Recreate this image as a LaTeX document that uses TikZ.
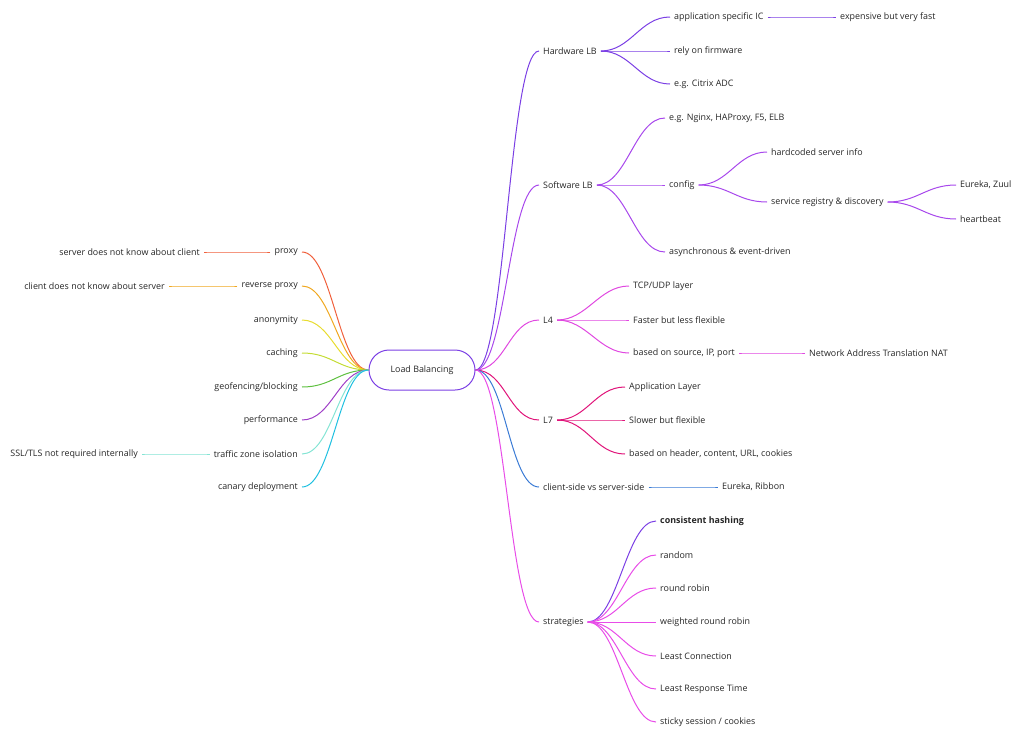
\documentclass[tikz,border=0pt]{standalone}
\usepackage{fontspec}
\setmainfont{Open Sans}
\definecolor{cHw}{HTML}{7B3FE4}
\definecolor{cSw}{HTML}{A848EC}
\definecolor{cLf}{HTML}{E048E0}
\definecolor{cLs}{HTML}{E0147A}
\definecolor{cCs}{HTML}{3A7BD5}
\definecolor{cSt}{HTML}{E84CE8}
\definecolor{cPx}{HTML}{F0603C}
\definecolor{cRp}{HTML}{F0A820}
\definecolor{cAn}{HTML}{E8DC30}
\definecolor{cCa}{HTML}{C4DC34}
\definecolor{cGe}{HTML}{5EC040}
\definecolor{cPe}{HTML}{A040C8}
\definecolor{cTz}{HTML}{84E4D4}
\definecolor{cCd}{HTML}{20C0E0}
\tikzset{
  lbl/.style={inner xsep=4pt, inner ysep=2pt, font=\fontsize{8.9}{10}\selectfont, text=black!85},
  lr/.style={lbl, anchor=west},
  ll/.style={lbl, anchor=east},
  br/.style={line width=1pt, draw=#1, out=0, in=180, distance=30pt},
  bl/.style={line width=1pt, draw=#1, out=180, in=0, distance=30pt}
}
\begin{document}
\begin{tikzpicture}[x=1pt, y=-1pt]
    \useasboundingbox (0,0) rectangle (1024,739);
    \node[draw=cHw, line width=1pt, rounded corners=20pt, minimum width=106pt, minimum height=40pt, lbl] (lb) at (422,370) {Load Balancing};
    % right side
    \node[lr] (hw) at (539,51) {Hardware LB};
    \node[lr] (asic) at (670,17) {application specific IC};
    \node[lr] (fast) at (836,17) {expensive but very fast};
    \node[lr] (firm) at (670,51) {rely on firmware};
    \node[lr] (citrix) at (670,84) {e.g. Citrix ADC};
    \draw[br=cHw] (lb.east) to (hw.west);
    \draw[br=cHw] (hw.east) to (asic.west);
    \draw[br=cHw] (asic.east) to (fast.west);
    \draw[br=cHw] (hw.east) to (firm.west);
    \draw[br=cHw] (hw.east) to (citrix.west);
    \node[lr] (sw) at (539,185) {Software LB};
    \node[lr] (nginx) at (665,118) {e.g. Nginx, HAProxy, F5, ELB};
    \node[lr] (config) at (665,185) {config};
    \node[lr] (hard) at (767,152) {hardcoded server info};
    \node[lr] (reg) at (767,202) {service registry \& discovery};
    \node[lr] (zuul) at (956,185) {Eureka, Zuul};
    \node[lr] (beat) at (956,219) {heartbeat};
    \node[lr] (async) at (665,252) {asynchronous \& event-driven};
    \draw[br=cSw] (lb.east) to (sw.west);
    \draw[br=cSw] (sw.east) to (nginx.west);
    \draw[br=cSw] (sw.east) to (config.west);
    \draw[br=cSw] (sw.east) to (async.west);
    \draw[br=cSw] (config.east) to (hard.west);
    \draw[br=cSw] (config.east) to (reg.west);
    \draw[br=cSw] (reg.east) to (zuul.west);
    \draw[br=cSw] (reg.east) to (beat.west);
    \node[lr] (lfour) at (539,320) {L4};
    \node[lr] (tcp) at (629,286) {TCP/UDP layer};
    \node[lr] (faster) at (629,320) {Faster but less flexible};
    \node[lr] (src) at (629,353) {based on source, IP, port};
    \node[lr] (nat) at (805,353) {Network Address Translation NAT};
    \draw[br=cLf] (lb.east) to (lfour.west);
    \draw[br=cLf] (lfour.east) to (tcp.west);
    \draw[br=cLf] (lfour.east) to (faster.west);
    \draw[br=cLf] (lfour.east) to (src.west);
    \draw[br=cLf] (src.east) to (nat.west);
    \node[lr] (lseven) at (539,420) {L7};
    \node[lr] (app) at (625,387) {Application Layer};
    \node[lr] (slower) at (625,420) {Slower but flexible};
    \node[lr] (hdr) at (625,454) {based on header, content, URL, cookies};
    \draw[br=cLs] (lb.east) to (lseven.west);
    \draw[br=cLs] (lseven.east) to (app.west);
    \draw[br=cLs] (lseven.east) to (slower.west);
    \draw[br=cLs] (lseven.east) to (hdr.west);
    \node[lr] (client) at (539,487) {client-side vs server-side};
    \node[lr] (ribbon) at (718,487) {Eureka, Ribbon};
    \draw[br=cCs] (lb.east) to (client.west);
    \draw[br=cCs] (client.east) to (ribbon.west);
    \node[lr] (strat) at (539,622) {strategies};
    \node[lr, font=\fontsize{8.9}{10}\selectfont\bfseries] (hash) at (656,521) {consistent hashing};
    \node[lr] (rand) at (656,555) {random};
    \node[lr] (rr) at (656,588) {round robin};
    \node[lr] (wrr) at (656,622) {weighted round robin};
    \node[lr] (lc) at (656,656) {Least Connection};
    \node[lr] (lrt) at (656,689) {Least Response Time};
    \node[lr] (sticky) at (656,722) {sticky session / cookies};
    \draw[br=cSt] (lb.east) to (strat.west);
    \draw[br=cHw] (strat.east) to (hash.west);
    \foreach \n in {rand, rr, wrr, lc, lrt, sticky}
        \draw[br=cSt] (strat.east) to (\n.west);
    % left side
    \node[ll] (proxy) at (302,252) {proxy};
    \node[ll] (nocl) at (204,252) {server does not know about client};
    \node[ll] (rproxy) at (302,286) {reverse proxy};
    \node[ll] (nosv) at (169,286) {client does not know about server};
    \node[ll] (anon) at (302,320) {anonymity};
    \node[ll] (cache) at (302,353) {caching};
    \node[ll] (geo) at (302,387) {geofencing/blocking};
    \node[ll] (perf) at (302,420) {performance};
    \node[ll] (zone) at (302,454) {traffic zone isolation};
    \node[ll] (ssl) at (142,454) {SSL/TLS not required internally};
    \node[ll] (canary) at (302,487) {canary deployment};
    \draw[bl=cPx] (lb.west) to (proxy.east);
    \draw[bl=cPx] (proxy.west) to (nocl.east);
    \draw[bl=cRp] (lb.west) to (rproxy.east);
    \draw[bl=cRp] (rproxy.west) to (nosv.east);
    \draw[bl=cAn] (lb.west) to (anon.east);
    \draw[bl=cCa] (lb.west) to (cache.east);
    \draw[bl=cGe] (lb.west) to (geo.east);
    \draw[bl=cPe] (lb.west) to (perf.east);
    \draw[bl=cTz] (lb.west) to (zone.east);
    \draw[bl=cTz] (zone.west) to (ssl.east);
    \draw[bl=cCd] (lb.west) to (canary.east);
\end{tikzpicture}
\end{document}
